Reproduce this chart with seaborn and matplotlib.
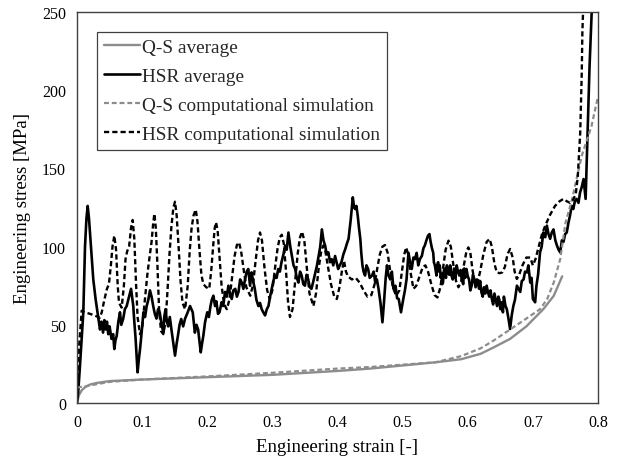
import numpy as np
import pandas as pd
import matplotlib
matplotlib.use("Agg")
import matplotlib.pyplot as plt
import seaborn as sns

# ---------------- data ----------------
qs_avg_x = [0.0, 0.003, 0.007, 0.012, 0.02, 0.03, 0.05, 0.1, 0.2, 0.3, 0.4, 0.45, 0.5,
            0.55, 0.59, 0.62, 0.64, 0.665, 0.69, 0.716, 0.732, 0.745]
qs_avg_y = [0.0, 5.0, 8.0, 10.0, 11.8, 12.8, 14.0, 15.0, 16.5, 18.0, 20.5, 22.0, 24.0,
            26.0, 28.0, 31.5, 35.6, 41.0, 49.0, 60.0, 68.5, 81.0]

qs_sim_x = [0.0, 0.01, 0.03, 0.05, 0.1, 0.2, 0.3, 0.4, 0.45, 0.5, 0.55, 0.59, 0.62,
            0.64, 0.665, 0.69, 0.711, 0.722, 0.732, 0.742, 0.75, 0.76, 0.775, 0.79, 0.8]
qs_sim_y = [10.0, 10.5, 12.0, 13.5, 15.0, 17.0, 19.3, 22.0, 23.0, 24.5, 26.0, 30.0, 35.0,
            40.0, 47.0, 54.0, 60.0, 66.5, 77.0, 92.0, 115.0, 130.0, 158.0, 177.0, 196.0]

hsr_avg_x = [0.000, 0.002, 0.0046, 0.007, 0.0097, 0.0123, 0.0145, 0.0164, 0.0184, 0.0215,
             0.025, 0.0287, 0.0328, 0.0353, 0.0375, 0.040, 0.042, 0.044, 0.046, 0.048,
             0.050, 0.053, 0.0555, 0.0573, 0.059, 0.061, 0.0635, 0.066, 0.068, 0.071,
             0.0735, 0.0763, 0.080, 0.083, 0.0864, 0.088, 0.090, 0.093, 0.095, 0.0968,
             0.099, 0.102, 0.1045, 0.107, 0.1095, 0.112, 0.1145, 0.117, 0.1195, 0.122,
             0.1245, 0.127, 0.130, 0.1326, 0.134, 0.136, 0.138, 0.140, 0.1425, 0.145,
             0.148, 0.1505, 0.153, 0.155, 0.1575, 0.160, 0.163, 0.166, 0.170, 0.1736,
             0.1777, 0.181, 0.1835, 0.186, 0.188, 0.190, 0.192, 0.194, 0.1966, 0.200,
             0.2025, 0.205, 0.207, 0.2094, 0.212, 0.214, 0.2165, 0.2188, 0.222, 0.2245,
             0.2273, 0.230, 0.2325, 0.235, 0.2376, 0.240, 0.243, 0.2455, 0.248, 0.2505,
             0.253, 0.2555, 0.258, 0.2605, 0.263, 0.2657, 0.268, 0.2705, 0.273, 0.2755,
             0.2785, 0.281, 0.2836, 0.286, 0.2888, 0.2915, 0.294, 0.2965, 0.299, 0.3015,
             0.304, 0.3065, 0.309, 0.3115, 0.314, 0.317, 0.3195, 0.322, 0.3246, 0.3275,
             0.330, 0.3325, 0.335, 0.3375, 0.340, 0.3425, 0.345, 0.3475, 0.350, 0.3525,
             0.355, 0.3575, 0.360, 0.363, 0.366, 0.3685, 0.371, 0.3735, 0.376, 0.3785,
             0.381, 0.3835, 0.386, 0.3885, 0.391, 0.3935, 0.3963, 0.3985, 0.401, 0.4035,
             0.406, 0.409, 0.412, 0.4145, 0.417, 0.4204, 0.4235, 0.4255, 0.4272, 0.429,
             0.431, 0.433, 0.435, 0.4365, 0.4383, 0.440, 0.4423, 0.4445, 0.447, 0.4495,
             0.453, 0.4555, 0.458, 0.4605, 0.463, 0.466, 0.469, 0.4715, 0.474, 0.476,
             0.478, 0.481, 0.4835, 0.486, 0.489, 0.4915, 0.494, 0.4975, 0.501, 0.5035,
             0.506, 0.509, 0.5115, 0.514, 0.5165, 0.519, 0.5215, 0.524, 0.5265, 0.5295,
             0.532, 0.534, 0.5365, 0.539, 0.5412, 0.543,
             0.545, 0.547, 0.548, 0.5495, 0.551, 0.552, 0.553, 0.5545, 0.556, 0.557,
             0.5585, 0.5595, 0.561, 0.562, 0.5635, 0.565, 0.5665, 0.568, 0.5695, 0.5715,
             0.573, 0.575, 0.577, 0.579, 0.581, 0.583, 0.585, 0.587, 0.589, 0.591,
             0.593, 0.5945, 0.596, 0.598, 0.600, 0.602, 0.604, 0.606, 0.608, 0.6095,
             0.612, 0.614, 0.616, 0.6175, 0.619, 0.621, 0.623, 0.625, 0.627, 0.629,
             0.631, 0.633, 0.635, 0.637, 0.639, 0.641, 0.643, 0.645, 0.647, 0.6485,
             0.650, 0.652, 0.654, 0.6555, 0.658, 0.660, 0.6625, 0.665,
             0.6675, 0.670, 0.6725, 0.6755, 0.678, 0.6806, 0.683, 0.6857,
             0.688, 0.691, 0.693, 0.696, 0.698, 0.700, 0.7035, 0.7055, 0.708, 0.711,
             0.7135, 0.716, 0.719, 0.7215, 0.724, 0.7265, 0.729, 0.7317, 0.7345, 0.737,
             0.7395, 0.742, 0.7445, 0.747, 0.7495, 0.752, 0.7545, 0.757, 0.7595, 0.762,
             0.7645, 0.767, 0.770, 0.7725, 0.775, 0.7778, 0.781, 0.784, 0.787, 0.7906,
             0.792]
hsr_avg_y = [0, 8, 24, 40, 58, 100, 118, 126, 118, 100,
             79, 66, 54, 47, 52, 45, 53, 47, 52, 44,
             49, 41, 44, 34.5, 40, 43, 52, 58, 50, 54,
             60, 62, 68, 73, 62, 52, 41, 19.6, 28, 34.5,
             44, 58, 55, 62, 66, 72, 68, 62, 57, 54,
             60, 58, 50, 45, 55, 60, 52, 49, 55, 47,
             38, 30.3, 38, 43, 50, 53.7, 49, 54, 58, 62,
             58, 45, 50, 47, 40, 32.4, 38, 43, 51.6, 58,
             55, 62, 66, 68.6, 62, 65, 57, 58, 64.4, 62,
             71, 68, 75, 70, 66.5, 72, 73, 68, 71, 79,
             77, 73, 79, 84, 85.7, 75, 83.5, 78, 73, 66,
             62, 64, 60, 58, 56, 60, 62, 68, 73, 78,
             81.5, 80, 85.7, 84, 90, 95, 100.6, 98, 109, 100,
             94, 88, 85.7, 80, 77, 84, 81.5, 76, 75, 82,
             79, 74, 73, 78, 83.5, 88, 94, 100, 111, 104,
             100.6, 95, 96.3, 90, 92, 88, 94, 90, 85.7, 88,
             90, 95, 98.5, 102, 105, 117.6, 131.5, 125, 124, 126,
             120, 112, 105, 96, 88, 84, 81.5, 88, 85.7, 80,
             81.5, 84, 77, 79, 73, 64, 51.6, 65, 80, 88,
             82, 79, 84, 73, 75, 67, 66.5, 58, 66.5, 72,
             79, 96, 90, 85.7, 93, 92, 96, 88, 92, 94,
             99, 100.6, 104, 107, 108, 103,
             99, 96, 90, 88, 84, 81.5, 88, 90, 84, 88,
             80, 82, 76, 77, 85, 86, 80, 88, 84, 82,
             88, 81.5, 79, 86, 80, 88, 84, 81.5, 85, 79,
             76, 86, 80, 85.7, 81, 79, 72, 75, 82, 80,
             74, 79, 76, 73, 78, 70.8, 68, 74, 70, 75,
             71, 68, 72, 66.5, 63, 70, 66, 62, 68, 66,
             60, 64.4, 58, 68, 62, 60, 54, 47.3,
             56, 62, 66, 75, 73, 71, 78, 79,
             84, 83.5, 88, 77, 80, 66.5, 64.4, 75, 82, 96.3,
             100, 109, 106, 113.4, 108, 105, 109, 111, 104, 100.6,
             98, 96.3, 104, 103, 108, 109, 115, 119.8, 126, 124,
             129, 130.5, 128, 134.7, 138, 143.2, 130.5, 173, 215, 252,
             270]

hsr_sim_x = [0.0, 0.003, 0.0072, 0.012, 0.020, 0.028, 0.035, 0.038, 0.042, 0.046,
             0.049, 0.052, 0.0545, 0.0573, 0.060, 0.0625, 0.0645, 0.0686, 0.072, 0.0745,
             0.077, 0.080, 0.083, 0.0855, 0.088, 0.0905, 0.093, 0.0968, 0.100, 0.104,
             0.108, 0.111, 0.1145, 0.117, 0.1188, 0.121, 0.1235, 0.126, 0.129, 0.1325,
             0.136, 0.139, 0.142, 0.145, 0.148, 0.1505, 0.153, 0.156, 0.159, 0.162,
             0.166, 0.170, 0.173, 0.176, 0.179, 0.1823, 0.185, 0.188, 0.191, 0.194,
             0.1985, 0.203, 0.206, 0.209, 0.2115, 0.2135, 0.216, 0.219, 0.222, 0.226,
             0.230, 0.234, 0.238, 0.242, 0.2455, 0.2488, 0.252, 0.256, 0.260, 0.266,
             0.270, 0.274, 0.278, 0.281, 0.284, 0.288, 0.292, 0.296, 0.300, 0.304,
             0.308, 0.3115, 0.3144, 0.3175, 0.321, 0.324, 0.327, 0.331, 0.335, 0.339,
             0.3425, 0.3455, 0.349, 0.353, 0.357, 0.363, 0.367, 0.371, 0.375, 0.378,
             0.381, 0.385, 0.390, 0.395, 0.399, 0.403, 0.407, 0.410, 0.413, 0.416,
             0.422, 0.428, 0.434, 0.440, 0.446, 0.452, 0.457, 0.461, 0.465, 0.469,
             0.473, 0.477, 0.481, 0.485, 0.490, 0.495, 0.499, 0.5025, 0.5055, 0.509,
             0.512, 0.5166, 0.521, 0.526, 0.531, 0.535, 0.539, 0.544, 0.549, 0.5535,
             0.558, 0.562, 0.566, 0.5704, 0.574, 0.578, 0.582, 0.5857, 0.590, 0.594,
             0.598, 0.601, 0.604, 0.607, 0.611, 0.615, 0.619, 0.624, 0.629, 0.6335,
             0.637, 0.641, 0.6446, 0.649, 0.653, 0.657, 0.661, 0.665, 0.669, 0.672,
             0.6754, 0.679, 0.684, 0.690, 0.696, 0.700, 0.704, 0.709, 0.714, 0.719,
             0.726, 0.734, 0.741, 0.747, 0.752, 0.757, 0.762, 0.766, 0.769, 0.7727,
             0.775, 0.776, 0.778]
hsr_sim_y = [5, 35, 59, 58, 57, 55.8, 54.5, 58, 66, 73,
             76, 88, 100, 107, 98, 75, 64, 61, 75, 92,
             97, 100, 112, 117, 105, 78, 55, 44, 48, 65,
             82, 92, 103, 115, 121, 112, 88, 60, 46, 44,
             52, 72, 95, 113, 125, 128.7, 120, 100, 78, 64,
             60, 75, 97, 112, 120, 123.6, 116, 98, 82, 76,
             74, 73, 84, 100, 112, 115.5, 110, 92, 75, 63,
             60, 66, 80, 94, 101, 102.7, 97, 85, 74, 68.6,
             75, 90, 104, 109, 104, 86, 72, 66.5, 72, 86,
             99, 106, 107.6, 102, 84, 65, 55, 60, 78, 96,
             106, 109.5, 104, 86, 70, 62, 70, 86, 97, 100.6,
             98, 88, 76, 68, 66.5, 74, 85, 91, 84, 81,
             79, 80, 77, 72, 68, 69, 76, 86, 95, 100,
             101, 96, 84, 74, 68.6, 72, 84, 95, 99.5, 94,
             84, 73, 75, 81, 87, 88, 84, 76, 69, 67.5,
             74, 86, 98, 103.8, 100, 88, 78, 74, 78, 88,
             97, 99.5, 96, 86, 76, 77, 84, 95, 103, 104.9,
             100, 89, 83.5, 83, 83.5, 87, 95, 98.5, 93, 84,
             79.3, 82, 88, 93, 93, 88, 92, 100, 108, 113.4,
             120, 126, 129, 130.5, 129, 128, 130, 134, 145, 173,
             210, 237, 262]

labels = ["Q-S average", "HSR average", "Q-S computational simulation",
          "HSR computational simulation"]
xticks = [0, 0.1, 0.2, 0.3, 0.4, 0.5, 0.6, 0.7, 0.8]
yticks = [0, 50, 100, 150, 200, 250]

assert len(hsr_avg_x) == len(hsr_avg_y)
assert len(hsr_sim_x) == len(hsr_sim_y)

# ---------------- plotting ----------------
sns.set_theme(style="white")
plt.rcParams["font.family"] = ["Liberation Serif", "DejaVu Serif"]

fig = plt.figure(figsize=(6.19, 4.64), dpi=100)
ax = fig.add_axes([77 / 619, 1 - 404 / 464, (598 - 77) / 619, (404 - 13) / 464])

grey = "#8c8c8c"
series = [
    (qs_avg_x, qs_avg_y, labels[0], grey, "-", 1.7),
    (hsr_avg_x, hsr_avg_y, labels[1], "black", "-", 1.9),
    (qs_sim_x, qs_sim_y, labels[2], grey, "--", 1.6),
    (hsr_sim_x, hsr_sim_y, labels[3], "black", "--", 1.7),
]
for xs, ys, lab, col, ls, lw in series:
    df = pd.DataFrame({"x": xs, "y": ys})
    sns.lineplot(data=df, x="x", y="y", sort=False, estimator=None, ax=ax,
                 color=col, linewidth=lw, label=lab)
    line = ax.get_lines()[-1]
    if ls == "--":
        line.set_dashes((2.2, 1.3))

ax.set_xlim(0, 0.8)
ax.set_ylim(0, 250)
ax.set_xticks(xticks)
ax.set_xticklabels([f"{t:g}" for t in xticks])
ax.set_yticks(yticks)
ax.tick_params(axis="both", length=0, labelsize=11.5, pad=8, colors="black")
ax.set_xlabel("Engineering strain [-]", fontsize=13.5, labelpad=6, color="black")
ax.set_ylabel("Engineering stress [MPa]", fontsize=13.5, labelpad=8, color="black")
for sp in ax.spines.values():
    sp.set_color("#404040")
    sp.set_linewidth(1.0)

leg = ax.legend(loc="upper left", bbox_to_anchor=(0.038, 0.95), fontsize=13.9,
                frameon=True, fancybox=False, framealpha=1, edgecolor="#404040",
                handlelength=1.9, handletextpad=0.1, labelspacing=0.6,
                borderpad=0.35, borderaxespad=0)
leg.get_frame().set_linewidth(0.9)

fig.savefig("out.png", dpi=100)
